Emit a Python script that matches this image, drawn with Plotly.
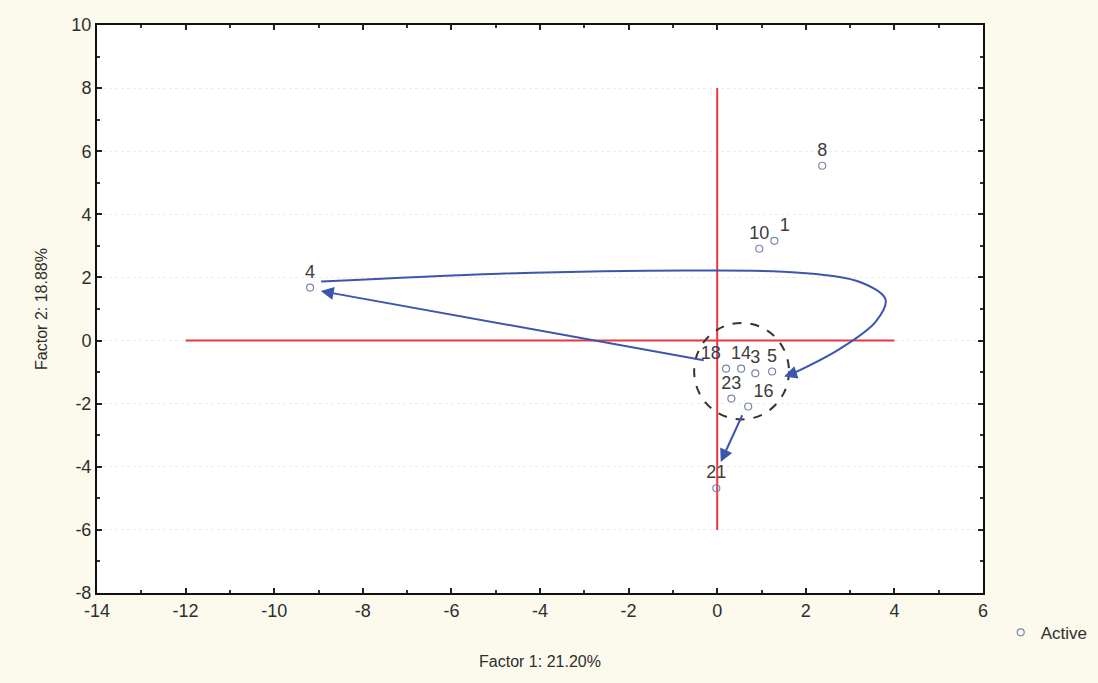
import plotly.graph_objects as go

# Case scores on the first two factors
case_labels = ["1", "3", "4", "5", "8", "10", "14", "16", "18", "21", "23"]
factor1 = [1.29, 0.86, -9.19, 1.24, 2.37, 0.95, 0.54, 0.70, 0.20, -0.02, 0.32]
factor2 = [3.16, -1.04, 1.68, -0.98, 5.54, 2.91, -0.89, -2.09, -0.89, -4.68, -1.84]
label_pos = ["top right", "top center", "top center", "top center", "top center", "top center",
             "top center", "top right", "top left", "top center", "top center"]

# Axis ticks, written with a plain hyphen for negatives
x_ticks = [-14, -12, -10, -8, -6, -4, -2, 0, 2, 4, 6]
y_ticks = [-8, -6, -4, -2, 0, 2, 4, 6, 8, 10]

# Curved trajectory from case 4 around to the central cluster
loop_x = [-8.94, -4.92, -0.41, 1.85, 3.25, 3.80, 3.58, 2.75, 1.70]
loop_y = [1.87, 2.12, 2.22, 2.15, 1.84, 1.30, 0.60, -0.28, -1.05]
loop_head = (1.51, -1.14)

# Straight arrows: (tail x, tail y, head x, head y)
straight_arrows = [
    (-0.27, -0.63, -8.95, 1.57),
    (0.58, -2.32, 0.08, -3.85),
]

# Reference cross and cluster outline
h_axis_line = ([-12, 4], [0, 0])
v_axis_line = ([0, 0], [8, -6])
cluster = dict(cx=0.55, cy=-0.97, rx=1.07, ry=1.53)

RED = "#e83842"
BLUE = "#3b56ad"
TXT = "#2e2e2e"
FONT = "Liberation Sans, Arial, sans-serif"

fig = go.Figure()

fig.add_trace(go.Scatter(x=h_axis_line[0], y=h_axis_line[1], mode="lines",
                         line=dict(color=RED, width=2), showlegend=False, hoverinfo="skip"))
fig.add_trace(go.Scatter(x=v_axis_line[0], y=v_axis_line[1], mode="lines",
                         line=dict(color=RED, width=2), showlegend=False, hoverinfo="skip"))

fig.add_trace(go.Scatter(x=loop_x, y=loop_y, mode="lines",
                         line=dict(color=BLUE, width=2, shape="spline", smoothing=1.0),
                         showlegend=False, hoverinfo="skip"))

fig.add_trace(go.Scatter(
    x=factor1, y=factor2, mode="markers+text", name="Active",
    text=case_labels, textposition=label_pos,
    textfont=dict(family=FONT, size=18, color="#3c3c3c"),
    marker=dict(symbol="circle-open", size=7, color="#7a86a8", line=dict(width=1.2)),
))

fig.add_shape(type="circle", xref="x", yref="y",
              x0=cluster["cx"] - cluster["rx"], x1=cluster["cx"] + cluster["rx"],
              y0=cluster["cy"] - cluster["ry"], y1=cluster["cy"] + cluster["ry"],
              line=dict(color="#333333", width=2, dash="dash"))

for tx, ty, hx, hy in straight_arrows:
    fig.add_annotation(x=hx, y=hy, ax=tx, ay=ty, xref="x", yref="y", axref="x", ayref="y",
                       showarrow=True, arrowhead=2, arrowsize=1.3, arrowwidth=2,
                       arrowcolor=BLUE, text="")

fig.add_annotation(x=loop_head[0], y=loop_head[1], ax=loop_x[-1], ay=loop_y[-1],
                   xref="x", yref="y", axref="x", ayref="y",
                   showarrow=True, arrowhead=2, arrowsize=1.3, arrowwidth=2,
                   arrowcolor=BLUE, text="")

axis_common = dict(
    showline=True, linecolor="#111111", linewidth=2, mirror="ticks",
    ticks="inside", ticklen=5, tickwidth=2, tickcolor="#222222",
    zeroline=False,
    tickfont=dict(family=FONT, size=18, color=TXT),
)

fig.update_xaxes(range=[-14, 6], tickvals=x_ticks, ticktext=[str(v) for v in x_ticks],
                 showgrid=False,
                 minor=dict(ticks="inside", dtick=1, ticklen=3, tickcolor="#333333"),
                 title=dict(text="Factor 1: 21.20%", font=dict(family=FONT, size=16, color=TXT),
                            standoff=36),
                 **axis_common)
fig.update_yaxes(range=[-8, 10], tickvals=y_ticks, ticktext=[str(v) for v in y_ticks],
                 showgrid=True, gridcolor="#ececec", griddash="dot", gridwidth=1,
                 minor=dict(ticks="inside", dtick=1, ticklen=3, tickcolor="#333333"),
                 title=dict(text="Factor 2: 18.88%", font=dict(family=FONT, size=16, color=TXT),
                            standoff=20),
                 **axis_common)

fig.update_layout(
    width=1098, height=683,
    margin=dict(l=97, r=115, t=25, b=90, autoexpand=False),
    paper_bgcolor="#fbfaed",
    plot_bgcolor="#ffffff",
    showlegend=True,
    legend=dict(x=1.02, y=-0.07, xanchor="left", yanchor="middle",
                bgcolor="rgba(0,0,0,0)", font=dict(family=FONT, size=17, color=TXT),
                itemwidth=30),
)

fig.write_html("out.html")
